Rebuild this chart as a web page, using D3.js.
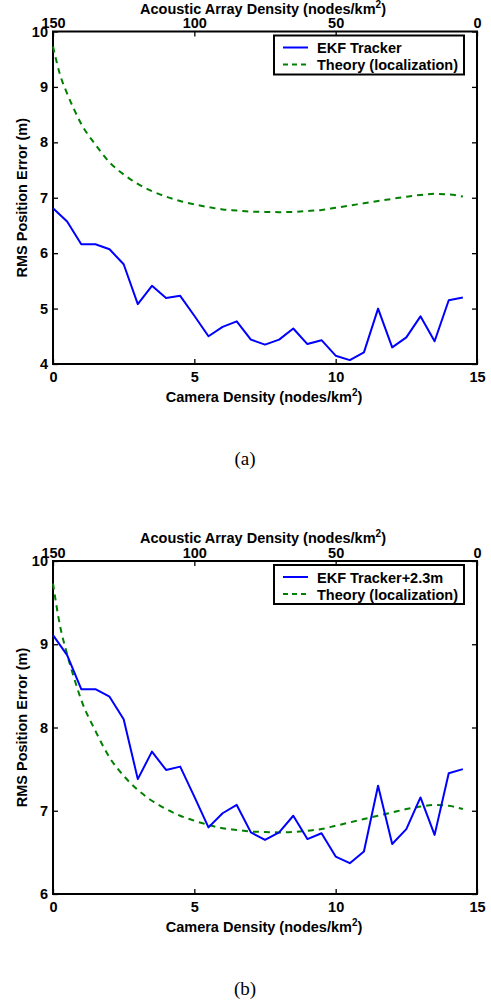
<!DOCTYPE html>
<html>
<head>
<meta charset="utf-8">
<script src="https://cdn.jsdelivr.net/npm/d3@7/dist/d3.min.js"></script>
<style>
  html, body { margin: 0; padding: 0; background: #fff; }
  svg { display: block; }
  .tick text, .lab { font-family: "Liberation Sans", Arial, sans-serif; font-weight: bold; }
</style>
</head>
<body>
<script>
// ---------- data ----------
const cameraDensity = [0,0.5,1,1.5,2,2.5,3,3.5,4,4.5,5,5.5,6,6.5,7,7.5,8,8.5,9,9.5,10,10.5,11,11.5,12,12.5,13,13.5,14,14.5];
const ekfTracker = [6.81,6.57,6.16,6.16,6.07,5.80,5.08,5.41,5.19,5.23,4.87,4.50,4.67,4.77,4.44,4.35,4.44,4.64,4.36,4.43,4.15,4.07,4.21,5.00,4.30,4.48,4.86,4.41,5.15,5.20];
const ekfTrackerPlus = [9.11,8.87,8.46,8.46,8.37,8.10,7.38,7.71,7.49,7.53,7.17,6.80,6.97,7.07,6.74,6.65,6.74,6.94,6.66,6.73,6.45,6.37,6.51,7.30,6.60,6.78,7.16,6.71,7.45,7.50];
const theoryX = [0,0.25,0.5,0.75,1,1.5,2,2.5,3,3.5,4,4.5,5,5.5,6,6.5,7,7.5,8,8.5,9,9.5,10,10.5,11,11.5,12,12.5,13,13.5,14,14.5];
const theoryY = [9.73,9.22,8.88,8.59,8.33,7.96,7.64,7.42,7.25,7.12,7.02,6.94,6.88,6.83,6.79,6.77,6.75,6.745,6.74,6.745,6.76,6.78,6.82,6.86,6.90,6.94,6.98,7.02,7.05,7.07,7.06,7.02];
const cameraTicks = [0,5,10,15];
const acousticTicks = [150,100,50,0];
const yTicksA = [4,5,6,7,8,9,10];
const yTicksB = [6,7,8,9,10];
const legendA = ["EKF Tracker", "Theory (localization)"];
const legendB = ["EKF Tracker+2.3m", "Theory (localization)"];

// ---------- drawing ----------
const W = 491, H = 1004;
const svg = d3.select("body").append("svg").attr("width", W).attr("height", H);

function panel(cfg) {
  const x0 = 53, x1 = 477;
  const g = svg.append("g");
  const x = d3.scaleLinear().domain([0, 15]).range([x0, x1]);
  const xTop = d3.scaleLinear().domain([150, 0]).range([x0, x1]);
  const y = d3.scaleLinear().domain(cfg.yDomain).range([cfg.bottom, cfg.top]);
  const fs = "14.5px";

  // axes
  const bottomAx = g.append("g").attr("transform", `translate(0,${cfg.bottom})`)
    .call(d3.axisBottom(x).tickValues(cameraTicks).tickFormat(d3.format("d")).tickSizeInner(-5).tickSizeOuter(0).tickPadding(8));
  const topAx = g.append("g").attr("transform", `translate(0,${cfg.top})`)
    .call(d3.axisTop(xTop).tickValues(acousticTicks).tickFormat(d3.format("d")).tickSizeInner(-5).tickSizeOuter(0).tickPadding(3.5));
  const leftAx = g.append("g").attr("transform", `translate(${x0},0)`)
    .call(d3.axisLeft(y).tickValues(cfg.yTicks).tickFormat(d3.format("d")).tickSizeInner(-5).tickSizeOuter(0).tickPadding(5));
  const rightAx = g.append("g").attr("transform", `translate(${x1},0)`)
    .call(d3.axisRight(y).tickValues(cfg.yTicks).tickFormat("").tickSizeInner(-5).tickSizeOuter(0));
  [bottomAx, topAx, leftAx, rightAx].forEach(a => {
    a.select(".domain").remove();
    a.selectAll(".tick line").attr("stroke", "#000").attr("stroke-width", 1.3);
    a.selectAll(".tick text").attr("font-size", fs).attr("fill", "#000");
  });
  bottomAx.selectAll(".tick text").attr("dy", "0.71em");
  // box
  g.append("rect").attr("x", x0).attr("y", cfg.top).attr("width", x1 - x0).attr("height", cfg.bottom - cfg.top)
    .attr("fill", "none").attr("stroke", "#000").attr("stroke-width", 2);

  // lines
  const line = d3.line().x(d => x(d[0])).y(d => y(d[1]));
  g.append("path").datum(theoryX.map((v, i) => [v, theoryY[i]]))
    .attr("d", line.curve(d3.curveMonotoneX)).attr("fill", "none").attr("stroke", "#008000")
    .attr("stroke-width", 2).attr("stroke-dasharray", "6,5");
  g.append("path").datum(cameraDensity.map((v, i) => [v, cfg.ekf[i]]))
    .attr("d", d3.line().x(d => x(d[0])).y(d => y(d[1]))).attr("fill", "none").attr("stroke", "#0000ff")
    .attr("stroke-width", 2).attr("stroke-linejoin", "round");

  // titles
  const top = g.append("text").attr("class", "lab").attr("x", (x0 + x1) / 2 - 2).attr("y", cfg.top - 18)
    .attr("text-anchor", "middle").attr("font-size", fs);
  top.append("tspan").text("Acoustic Array Density (nodes/km");
  top.append("tspan").text("2").attr("font-size", "10px").attr("dy", "-6");
  top.append("tspan").text(")").attr("dy", "6");

  const bot = g.append("text").attr("class", "lab").attr("x", (x0 + x1) / 2 - 1).attr("y", cfg.bottom + 38)
    .attr("text-anchor", "middle").attr("font-size", fs);
  bot.append("tspan").text("Camera Density (nodes/km");
  bot.append("tspan").text("2").attr("font-size", "10px").attr("dy", "-6");
  bot.append("tspan").text(")").attr("dy", "6");

  g.append("text").attr("class", "lab").attr("font-size", fs).attr("text-anchor", "middle")
    .attr("transform", `translate(27,${(cfg.top + cfg.bottom) / 2}) rotate(-90)`)
    .text("RMS Position Error (m)");

  // legend
  const lg = g.append("g").attr("transform", `translate(274,${cfg.top + 4})`);
  lg.append("rect").attr("width", 190).attr("height", 39).attr("fill", "#fff").attr("stroke", "#000").attr("stroke-width", 2);
  const colors = ["#0000ff", "#008000"];
  cfg.legend.forEach((t, i) => {
    const yy = 12 + i * 17;
    lg.append("line").attr("x1", 9).attr("x2", 34).attr("y1", yy).attr("y2", yy)
      .attr("stroke", colors[i]).attr("stroke-width", 2).attr("stroke-dasharray", i ? "5,4" : null);
    lg.append("text").attr("class", "lab").attr("x", 43).attr("y", yy + 5.5).attr("font-size", fs).text(t);
  });

  // caption
  svg.append("text").attr("x", 245).attr("y", cfg.caption).attr("text-anchor", "middle")
    .attr("font-family", "'Liberation Serif', 'Times New Roman', serif").attr("font-size", "19px")
    .text(cfg.label);
}

panel({ top: 31.5, bottom: 364, yDomain: [4, 10], yTicks: yTicksA, ekf: ekfTracker, legend: legendA, caption: 465, label: "(a)" });
panel({ top: 561, bottom: 894, yDomain: [6, 10], yTicks: yTicksB, ekf: ekfTrackerPlus, legend: legendB, caption: 995, label: "(b)" });
</script>
</body>
</html>
